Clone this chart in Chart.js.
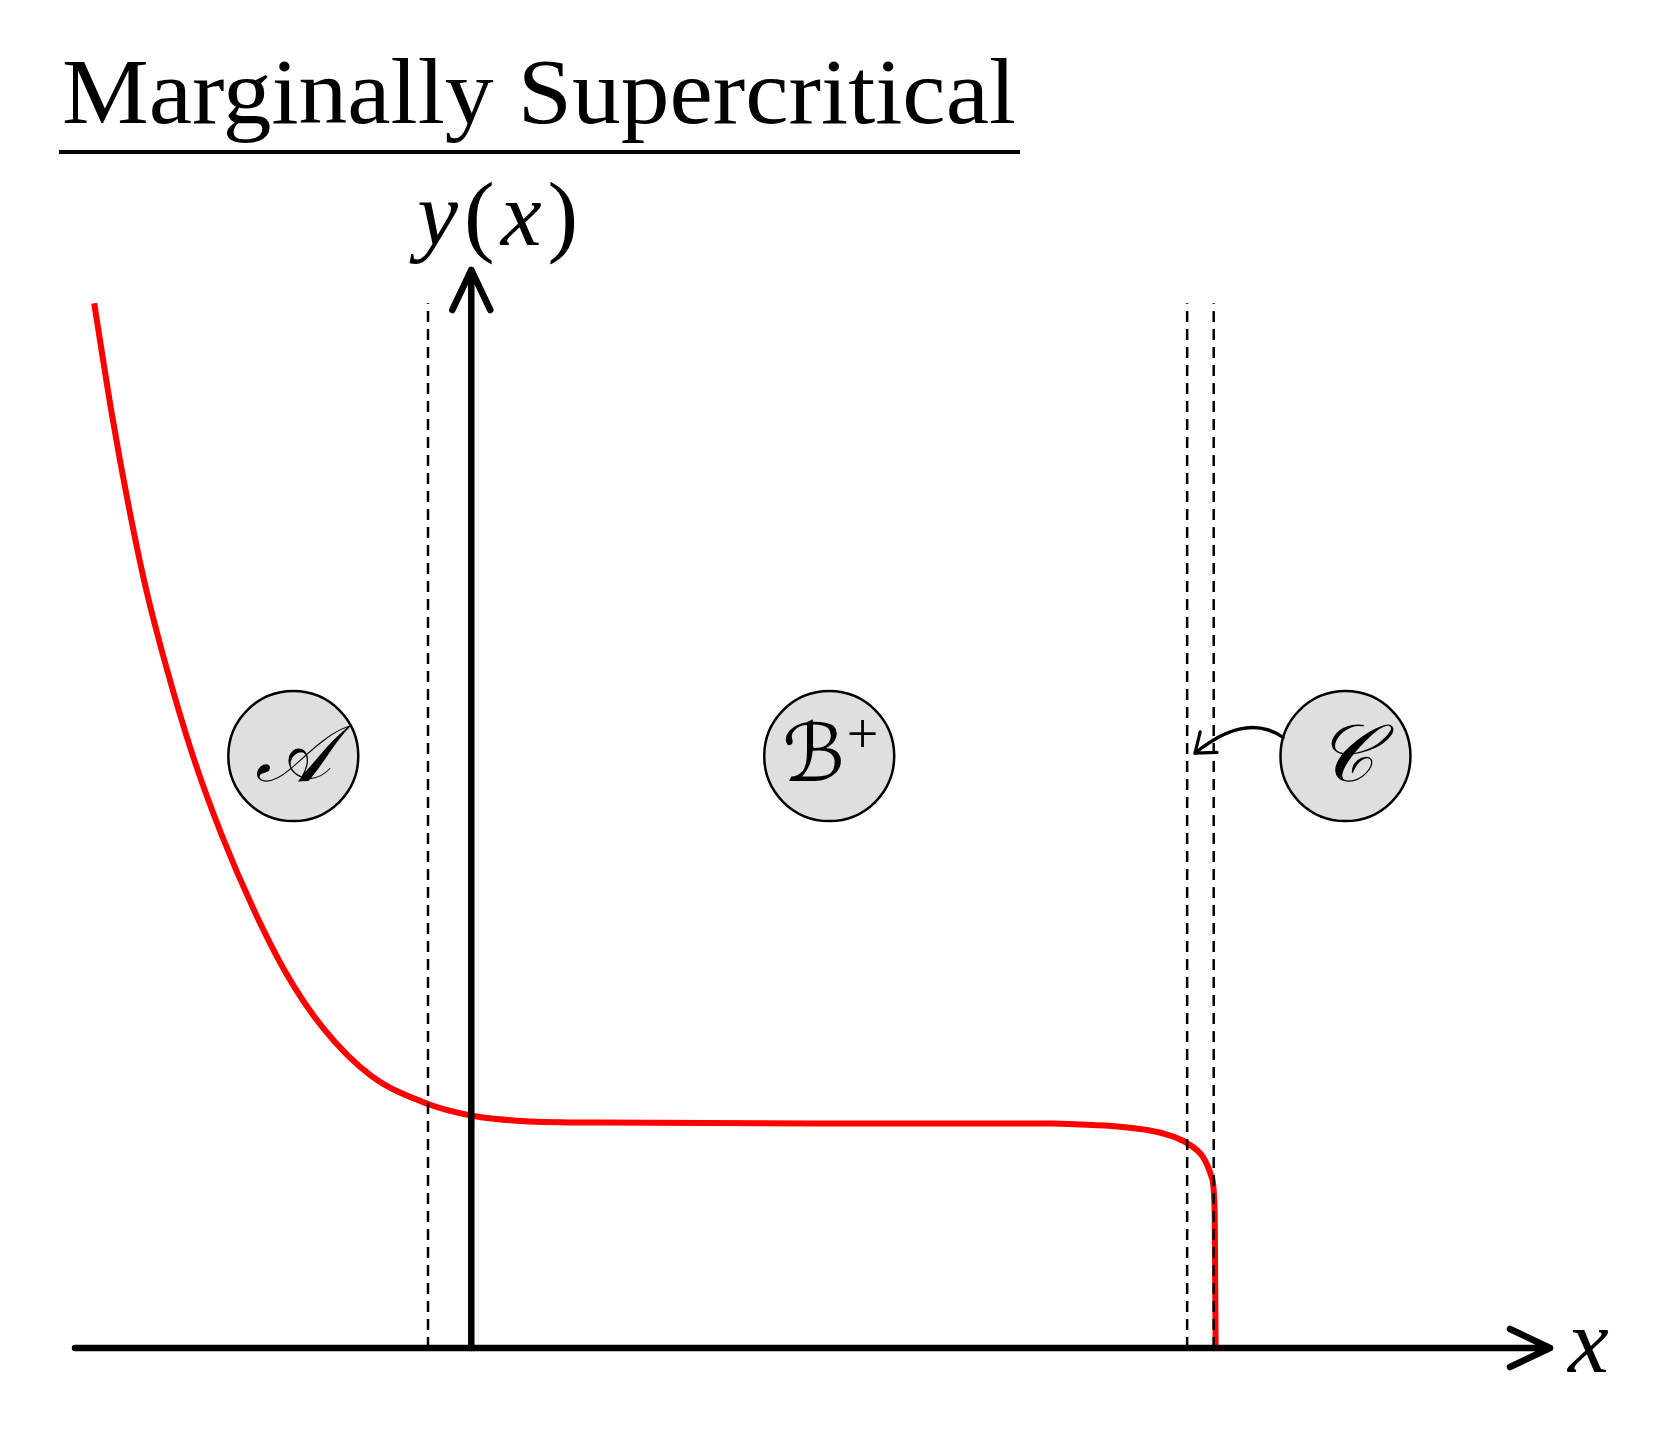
<!DOCTYPE html>
<html>
<head>
<meta charset="utf-8">
<script src="https://cdn.jsdelivr.net/npm/chart.js@4.4.1/dist/chart.umd.min.js"></script>
<style>
    body { margin: 0; background: #fff; }
    canvas { display: block; }
</style>
</head>
<body>
<canvas id="regionChart" width="1678" height="1449"></canvas>
<script>
// profile y(x), x = 0 sits on the y axis
var curveX = [-3.835, -3.65, -3.49, -3.32, -3.11, -2.83, -2.54, -2.21, -1.88, -1.51, -1.02, -0.44, 0.01, 0.46, 1.31, 3.50, 5.90, 6.20, 6.57, 6.90, 7.10, 7.28, 7.44, 7.53, 7.56, 7.565, 7.57];
var curveY = [10.66, 9.50, 8.62, 7.80, 6.98, 6.04, 5.24, 4.47, 3.82, 3.27, 2.78, 2.49, 2.37, 2.32, 2.30, 2.29, 2.29, 2.28, 2.26, 2.22, 2.17, 2.09, 1.95, 1.74, 1.38, 0.69, 0];

// dashed region boundaries
var boundaryX = [-0.44, 7.28, 7.55];
var boundaryTop = 10.66;

// region markers (circles)
var regionNames = ['\u{1D49C}', '\u212C', '\u{1D49E}'];
var regionSup = ['', '+', ''];
var regionX = [-1.81, 3.64, 8.89];
var regionY = [6.04, 6.04, 6.04];
var arrowTip = [7.36, 6.07];   // where the C marker points to

var titleText = 'Marginally Supercritical';
var xRange = [-4.03, 10.97];
var yRange = [0, 11];

var datasets = [];
datasets.push({
    label: 'y(x)',
    data: curveX.map(function(x, i) { return { x: x, y: curveY[i] }; }),
    borderColor: '#ff0000',
    borderWidth: 6,
    pointRadius: 0,
    cubicInterpolationMode: 'monotone',
    fill: false,
    order: 3
});
boundaryX.forEach(function(bx) {
    datasets.push({
        label: 'boundary',
        data: [{ x: bx, y: 0 }, { x: bx, y: boundaryTop }],
        borderColor: '#000',
        borderWidth: 2.5,
        borderDash: [11, 7],
        pointRadius: 0,
        order: 2
    });
});
datasets.push({
    label: 'regions',
    data: regionX.map(function(x, i) { return { x: x, y: regionY[i] }; }),
    showLine: false,
    pointRadius: 65,
    pointHoverRadius: 65,
    pointBackgroundColor: '#dfdfdf',
    pointBorderColor: '#000',
    pointBorderWidth: 2.5,
    order: 1
});

var sketchPlugin = {
    id: 'sketch',
    afterDatasetsDraw: function(chart) {
        var ctx = chart.ctx;
        var xs = chart.scales.x, ys = chart.scales.y;
        var x0 = xs.getPixelForValue(0), y0 = ys.getPixelForValue(0);
        var left = xs.getPixelForValue(xRange[0]), right = xs.getPixelForValue(xRange[1]);
        var top = ys.getPixelForValue(yRange[1]);

        ctx.save();
        ctx.strokeStyle = '#000';
        ctx.fillStyle = '#000';
        ctx.lineCap = 'round';
        ctx.lineJoin = 'round';

        // axes with open arrow heads
        ctx.lineWidth = 6.5;
        ctx.beginPath();
        ctx.moveTo(left, y0); ctx.lineTo(right, y0);
        ctx.moveTo(right - 40, y0 - 19); ctx.lineTo(right, y0); ctx.lineTo(right - 40, y0 + 19);
        ctx.stroke();
        ctx.beginPath();
        ctx.moveTo(x0, y0); ctx.lineTo(x0, top);
        ctx.moveTo(x0 - 19, top + 40); ctx.lineTo(x0, top); ctx.lineTo(x0 + 19, top + 40);
        ctx.stroke();

        // axis labels
        var serif = '"Liberation Serif", "DejaVu Serif", serif';
        ctx.textBaseline = 'alphabetic';
        ctx.textAlign = 'left';
        ctx.font = 'italic 92px ' + serif;
        ctx.fillText('x', right + 18, y0 + 24);
        var parts = [['y', true], ['(', false], ['x', true], [')', false]];
        var px = x0 - 54;
        parts.forEach(function(p) {
            ctx.font = (p[1] ? 'italic ' : '') + '92px ' + serif;
            ctx.fillText(p[0], px, top - 25);
            px += ctx.measureText(p[0]).width + 6;
        });

        // region letters
        var cal = '"DejaVu Serif", "DejaVu Sans", "Noto Sans", serif';
        regionNames.forEach(function(name, i) {
            var cx = xs.getPixelForValue(regionX[i]), cy = ys.getPixelForValue(regionY[i]);
            ctx.font = 'italic 80px ' + cal;
            var w = ctx.measureText(name).width;
            var sw = 0;
            if (regionSup[i]) {
                ctx.font = '56px ' + serif;
                sw = ctx.measureText(regionSup[i]).width;
            }
            var sx = cx - (w + sw) / 2;
            ctx.font = 'italic 80px ' + cal;
            ctx.textBaseline = 'middle';
            ctx.fillText(name, sx, cy + 4);
            if (regionSup[i]) {
                ctx.font = '56px ' + serif;
                ctx.fillText(regionSup[i], sx + w + 2, cy - 18);
            }
        });

        // curved pointer from C to the boundary layer
        var c = regionX.length - 1;
        var ccx = xs.getPixelForValue(regionX[c]), ccy = ys.getPixelForValue(regionY[c]);
        var sx0 = ccx - 65 * Math.cos(0.29), sy0 = ccy - 65 * Math.sin(0.29);
        var tx = xs.getPixelForValue(arrowTip[0]), ty = ys.getPixelForValue(arrowTip[1]);
        var qx = (sx0 + tx) / 2 + 7, qy = Math.min(sy0, ty) - 26;
        ctx.lineWidth = 3.2;
        ctx.beginPath();
        ctx.moveTo(sx0, sy0);
        ctx.quadraticCurveTo(qx, qy, tx, ty);
        ctx.stroke();
        var ang = Math.atan2(qy - ty, qx - tx);
        ctx.beginPath();
        ctx.moveTo(tx + 22 * Math.cos(ang - 0.65), ty + 22 * Math.sin(ang - 0.65));
        ctx.lineTo(tx, ty);
        ctx.lineTo(tx + 22 * Math.cos(ang + 0.65), ty + 22 * Math.sin(ang + 0.65));
        ctx.stroke();

        // underlined title
        ctx.font = '94px ' + serif;
        ctx.textBaseline = 'alphabetic';
        var tw = ctx.measureText(titleText).width;
        ctx.save();
        ctx.translate(62, 123);
        ctx.scale(954 / tw, 1);
        ctx.fillText(titleText, 0, 0);
        ctx.restore();
        ctx.lineWidth = 4;
        ctx.lineCap = 'butt';
        ctx.beginPath();
        ctx.moveTo(59, 152); ctx.lineTo(1020, 152);
        ctx.stroke();

        ctx.restore();
    }
};

var chart = new Chart(document.getElementById('regionChart'), {
    type: 'line',
    data: { datasets: datasets },
    options: {
        responsive: false,
        devicePixelRatio: 1,
        animation: false,
        layout: { padding: { left: 75, right: 128, top: 270, bottom: 101 } },
        scales: {
            x: { type: 'linear', display: false, min: xRange[0], max: xRange[1] },
            y: { type: 'linear', display: false, min: yRange[0], max: yRange[1] }
        },
        plugins: {
            legend: { display: false },
            tooltip: { enabled: false }
        },
        elements: { line: { clip: false } }
    },
    plugins: [sketchPlugin]
});
</script>
</body>
</html>
